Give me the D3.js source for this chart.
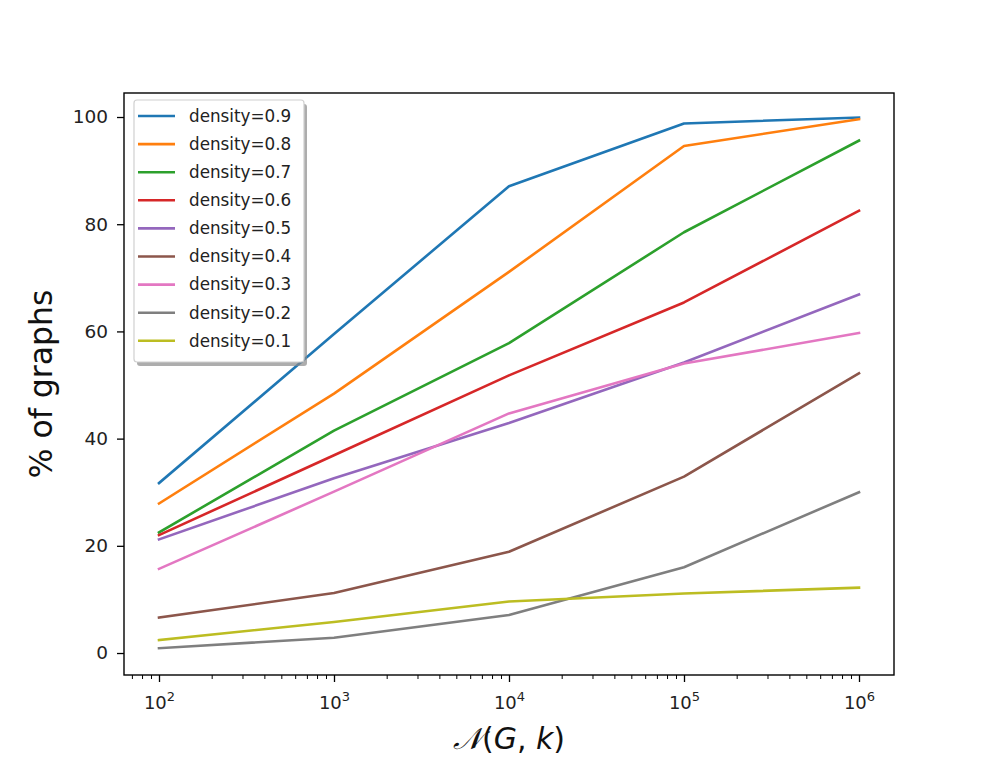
<!DOCTYPE html>
<html>
<head>
<meta charset="utf-8">
<script src="https://cdn.jsdelivr.net/npm/d3@7"></script>
<style>
  html, body { margin: 0; padding: 0; background: #fff; }
  svg { display: block; font-family: "DejaVu Sans", sans-serif; }
</style>
</head>
<body>
<svg id="chart" width="994" height="758"></svg>
<script>
// x positions: N(G,k)
const xValues = [1e2, 1e3, 1e4, 1e5, 1e6];
const seriesLabels = ['density=0.9', 'density=0.8', 'density=0.7', 'density=0.6', 'density=0.5',
  'density=0.4', 'density=0.3', 'density=0.2', 'density=0.1'];
const seriesColors = ['#1f77b4', '#ff7f0e', '#2ca02c', '#d62728', '#9467bd',
  '#8c564b', '#e377c2', '#7f7f7f', '#bcbd22'];
// % of graphs, one array per density
const d09 = [31.7, 59.5, 87.1, 98.8, 99.9];
const d08 = [27.9, 48.4, 71.1, 94.6, 99.6];
const d07 = [22.5, 41.5, 57.8, 78.5, 95.6];
const d06 = [22.0, 36.9, 51.8, 65.4, 82.5];
const d05 = [21.2, 32.6, 42.9, 54.2, 66.9];
const d04 = [6.6, 11.2, 18.9, 32.9, 52.2];
const d03 = [15.7, 30.1, 44.7, 54.0, 59.7];
const d02 = [0.9, 2.85, 7.1, 16.0, 30.0];
const d01 = [2.4, 5.8, 9.6, 11.1, 12.2];
const yTicks = [0, 20, 40, 60, 80, 100];
const xTicks = [1e2, 1e3, 1e4, 1e5, 1e6];

const seriesValues = [d09, d08, d07, d06, d05, d04, d03, d02, d01];

const plot = { left: 124, right: 894, top: 93, bottom: 675 };

const svg = d3.select('#chart');

const x = d3.scaleLog()
  .domain([Math.pow(10, 1.8), Math.pow(10, 6.2)])
  .range([plot.left, plot.right]);

const y = d3.scaleLinear()
  .domain([-4.1, 104.48])
  .range([plot.bottom, plot.top]);

// Lines first, spine drawn on top
const line = d3.line()
  .x((d, i) => x(xValues[i]))
  .y(d => y(d));

svg.append('g')
  .selectAll('path')
  .data(seriesValues)
  .join('path')
  .attr('d', d => line(d))
  .attr('fill', 'none')
  .attr('stroke', (d, i) => seriesColors[i])
  .attr('stroke-width', 2.6)
  .attr('stroke-linejoin', 'round')
  .attr('stroke-linecap', 'square');

// Y axis
const yAxis = svg.append('g')
  .attr('transform', `translate(${plot.left},0)`)
  .call(d3.axisLeft(y).tickValues(yTicks).tickSize(7).tickPadding(9).tickFormat(d3.format('d')));
yAxis.select('.domain').remove();
yAxis.selectAll('.tick line').attr('stroke', '#000').attr('stroke-width', 1.3);
yAxis.selectAll('.tick text')
  .attr('font-family', 'DejaVu Sans')
  .attr('font-size', 18.5)
  .attr('fill', '#222');

// X axis: minor ticks
const minorTicks = [];
for (let e = 1; e <= 6; e++) {
  for (let m = 2; m <= 9; m++) {
    const v = m * Math.pow(10, e);
    if (v > x.domain()[0] && v < x.domain()[1]) minorTicks.push(v);
  }
}
const xMinor = svg.append('g')
  .attr('transform', `translate(0,${plot.bottom})`)
  .call(d3.axisBottom(x).tickValues(minorTicks).tickSize(4).tickFormat(''));
xMinor.select('.domain').remove();
xMinor.selectAll('.tick line').attr('stroke', '#000').attr('stroke-width', 1);

const xAxis = svg.append('g')
  .attr('transform', `translate(0,${plot.bottom})`)
  .call(d3.axisBottom(x).tickValues(xTicks).tickSize(7).tickPadding(8));
xAxis.select('.domain').remove();
xAxis.selectAll('.tick line').attr('stroke', '#000').attr('stroke-width', 1.3);
xAxis.selectAll('.tick text')
  .attr('font-family', 'DejaVu Sans')
  .attr('font-size', 18)
  .attr('fill', '#222')
  .attr('dy', '1.08em')
  .each(function (d) {
    const t = d3.select(this);
    t.text('');
    t.append('tspan').text('10');
    t.append('tspan').attr('dy', -8).attr('font-size', 13).text(Math.round(Math.log10(d)));
  });

// Spine
svg.append('rect')
  .attr('x', plot.left).attr('y', plot.top)
  .attr('width', plot.right - plot.left).attr('height', plot.bottom - plot.top)
  .attr('fill', 'none').attr('stroke', '#000').attr('stroke-width', 1.4);

// Axis labels
svg.append('text')
  .attr('transform', `translate(52,${(plot.top + plot.bottom) / 2}) rotate(-90)`)
  .attr('text-anchor', 'middle')
  .attr('font-size', 31.5)
  .attr('fill', '#111')
  .text('% of graphs');

const xl = svg.append('text')
  .attr('x', (plot.left + plot.right) / 2)
  .attr('y', 749)
  .attr('text-anchor', 'middle')
  .attr('font-size', 30)
  .attr('fill', '#111');
xl.append('tspan').attr('font-style', 'italic').text('\u{1D4A9}');
xl.append('tspan').text('(');
xl.append('tspan').attr('font-style', 'italic').text('G');
xl.append('tspan').text(', ');
xl.append('tspan').attr('font-style', 'italic').text('k');
xl.append('tspan').text(')');

// Legend
const legend = { x: 134, y: 100, w: 170, h: 262, row: 28.1 };
const lg = svg.append('g');
lg.append('rect')
  .attr('x', legend.x + 3).attr('y', legend.y + 4)
  .attr('width', legend.w).attr('height', legend.h)
  .attr('rx', 3)
  .attr('fill', '#8a8a8a').attr('opacity', 0.7);
lg.append('rect')
  .attr('x', legend.x).attr('y', legend.y)
  .attr('width', legend.w).attr('height', legend.h)
  .attr('rx', 3)
  .attr('fill', '#fff').attr('stroke', '#d0d0d0').attr('stroke-width', 1.2);

const items = lg.selectAll('g.item')
  .data(seriesLabels)
  .join('g')
  .attr('class', 'item')
  .attr('transform', (d, i) => `translate(${legend.x},${legend.y + 16 + i * legend.row})`);
items.append('line')
  .attr('x1', 4).attr('x2', 41)
  .attr('stroke', (d, i) => seriesColors[i])
  .attr('stroke-width', 2.6);
items.append('text')
  .attr('x', 55)
  .attr('dy', '0.35em')
  .attr('font-size', 16.8)
  .attr('fill', '#222')
  .text(d => d);
</script>
</body>
</html>
